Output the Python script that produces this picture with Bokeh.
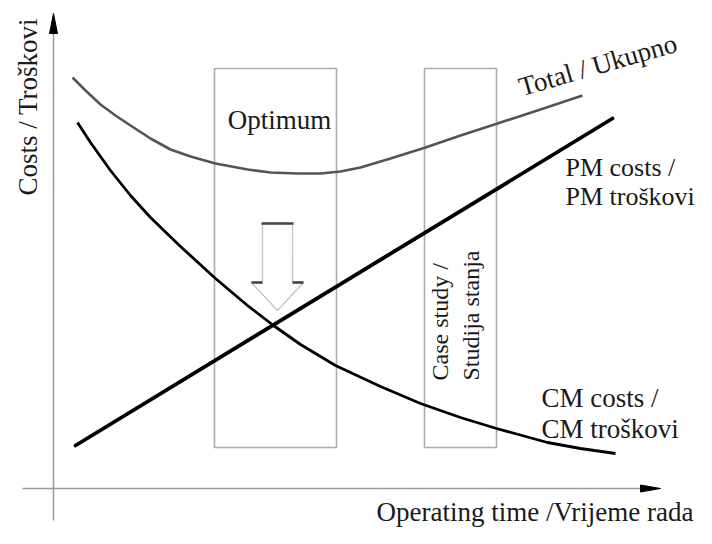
import numpy as np
from bokeh.plotting import figure
from bokeh.models import Range1d
from bokeh.embed import file_html
from bokeh.resources import INLINE
from bokeh.core.properties import value

# ---- data (operating time vs. cost, schematic units; origin at the axes crossing) ----
time_total = [19, 32, 47, 62, 77, 97, 117, 137, 162, 194, 217, 244, 267, 287, 307,
              337, 372, 407, 444, 487, 529]
cost_total = [411, 398, 384, 373, 363, 350, 339, 332, 325, 319, 316, 315, 315, 317, 321,
              330, 341, 353, 365, 379, 393]

time_cm = [24, 37, 57, 77, 97, 127, 162, 194, 220, 247, 282, 327, 367, 407, 443, 494, 527, 562]
cost_cm = [366, 346, 318, 293, 271, 242, 210, 183, 163, 144, 123, 102, 85, 71, 60, 46, 40, 35]

time_pm = [22, 559]
cost_pm = [43, 370]

zone_names = ["Optimum", "Case study"]
zone_left = [161, 371]
zone_right = [283, 443]
zone_bottom = [41, 41]
zone_top = [420, 420]

x_axis_extent = [-31, 607]
y_axis_extent = [-32, 475]

# ---- figure ----
W, H = 696, 528
p = figure(width=W, height=H, output_backend="svg", toolbar_location=None,
           x_range=Range1d(-53, 643), y_range=Range1d(-40, 488),
           min_border=0, min_border_left=0, min_border_right=0,
           min_border_top=0, min_border_bottom=0)
p.axis.visible = False
p.grid.visible = False
p.outline_line_color = None
p.background_fill_color = "white"
p.border_fill_color = "white"

FONT = value("Liberation Serif")
AX = "#9a9a9a"

# axes
p.segment(x0=[x_axis_extent[0], 0], y0=[0, y_axis_extent[0]],
          x1=[x_axis_extent[1] - 10, 0], y1=[0, y_axis_extent[1] - 10],
          line_color=AX, line_width=1.5)
hl, hw = 20, 4
xt, yt = x_axis_extent[1], y_axis_extent[1]
p.patches(xs=[[xt, xt - hl, xt - hl], [-hw, 0, hw]],
          ys=[[0, hw - 0.5, -hw + 0.5], [yt - hl, yt, yt - hl]],
          fill_color="black", line_color="black", line_width=1)

# zones
p.quad(left=zone_left, right=zone_right, bottom=zone_bottom, top=zone_top,
       fill_alpha=0, line_color="#acacac", line_width=1.6)

# curves
p.line(time_total, cost_total, line_color="#555555", line_width=2.6, line_join="round")
p.line(time_cm, cost_cm, line_color="black", line_width=2.8, line_join="round")
p.line(time_pm, cost_pm, line_color="black", line_width=3.8, line_cap="round")

# hollow arrow pointing at the optimum
ax_c, a_top, a_base, a_tip, sw, hw2 = 224, 265, 206, 178, 15, 26
p.patch(x=[ax_c - sw, ax_c + sw, ax_c + sw, ax_c + hw2, ax_c, ax_c - hw2, ax_c - sw],
        y=[a_top, a_top, a_base, a_base, a_tip, a_base, a_base],
        fill_color="white", line_color="#c4c4c4", line_width=1.3)
p.segment(x0=[ax_c - sw - 1, ax_c - hw2, ax_c + sw], y0=[a_top, a_base, a_base],
          x1=[ax_c + sw + 1, ax_c - sw, ax_c + hw2], y1=[a_top, a_base, a_base],
          line_color="#444444", line_width=2.6)

# labels
TXT = "#1a1a1a"
p.text(x=[226], y=[369], text=["Optimum"], text_font=FONT, text_font_size=value("27px"),
       text_align="center", text_baseline="alphabetic", text_color=TXT)
p.text(x=[466], y=[401], text=["Total / Ukupno"], angle=np.deg2rad(16),
       text_font=FONT, text_font_size=value("27px"),
       text_align="left", text_baseline="alphabetic", text_color=TXT)
p.text(x=[512, 512], y=[321, 292], text=["PM costs /", "PM troškovi"],
       text_font=FONT, text_font_size=value("26px"),
       text_align="left", text_baseline="alphabetic", text_color=TXT)
p.text(x=[488, 488], y=[91, 60], text=["CM costs /", "CM troškovi"],
       text_font=FONT, text_font_size=value("27px"),
       text_align="left", text_baseline="alphabetic", text_color=TXT)
p.text(x=[386, 417], y=[108, 108], text=["Case study /", "Studija stanja"], angle=np.pi / 2,
       text_font=FONT, text_font_size=value("24px"),
       text_align="left", text_baseline="alphabetic", text_color=TXT)
p.text(x=[-26], y=[293], text=["Costs / Troškovi"], angle=np.pi / 2,
       text_font=FONT, text_font_size=value("27px"),
       text_align="left", text_baseline="alphabetic", text_color=TXT)
p.text(x=[640], y=[-23], text=["Operating time /Vrijeme rada"],
       text_font=FONT, text_font_size=value("27px"),
       text_align="right", text_baseline="alphabetic", text_color=TXT)

open("out.html", "w").write(file_html(p, INLINE))
